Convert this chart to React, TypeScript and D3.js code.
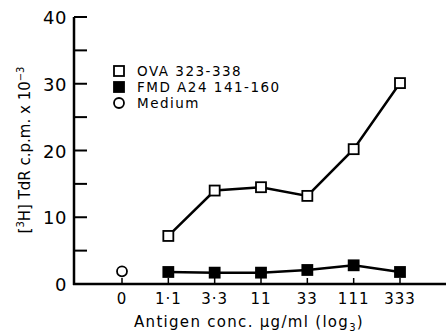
import * as d3 from 'd3'

const concLabels = ['0', '1·1', '3·3', '11', '33', '111', '333']
const ovaConc = ['1·1', '3·3', '11', '33', '111', '333']
const ovaValues = [7.2, 14.0, 14.5, 13.2, 20.2, 30.1]
const fmdConc = ['1·1', '3·3', '11', '33', '111', '333']
const fmdValues = [1.8, 1.7, 1.7, 2.1, 2.8, 1.8]
const mediumConc = ['0']
const mediumValues = [1.9]
const yMajor = [0, 10, 20, 30, 40]
const yMinor = [5, 15, 25, 35]
const legendItems = ['OVA 323-338', 'FMD A24 141-160', 'Medium']

const font = '"DejaVu Sans", "Liberation Sans", sans-serif'

export default function App() {
  const W = 446, H = 334
  const x = d3.scalePoint<string>().domain(concLabels).range([122, 400])
  const y = d3.scaleLinear().domain([0, 40]).range([284, 17])
  const line = d3.line<[string, number]>().x(d => x(d[0]) ?? 0).y(d => y(d[1]))
  const ova = ovaConc.map((c, i) => [c, ovaValues[i]] as [string, number])
  const fmd = fmdConc.map((c, i) => [c, fmdValues[i]] as [string, number])
  const sq = 10

  return (
    <svg width={W} height={H} style={{ position: 'absolute', left: 0, top: 0, background: '#fff' }}
      fontFamily={font}>
      {/* axes */}
      <line x1={74} x2={74} y1={y(40)} y2={y(0) + 1} stroke="#000" strokeWidth={2.5} />
      <line x1={73} x2={446} y1={y(0)} y2={y(0)} stroke="#000" strokeWidth={2.5} />
      {[...yMajor, ...yMinor].map(v => (
        <line key={`yt${v}`} x1={74} x2={87} y1={y(v)} y2={y(v)} stroke="#000" strokeWidth={2} />
      ))}
      {yMajor.map(v => (
        <text key={`yl${v}`} x={67} y={y(v) + 7} textAnchor="end" fontSize={18} letterSpacing={0.5}>{v}</text>
      ))}
      {concLabels.map(c => (
        <g key={`xt${c}`}>
          <line x1={x(c)} x2={x(c)} y1={y(0)} y2={y(0) - 6} stroke="#000" strokeWidth={1.5} />
          <text x={x(c)} y={304} textAnchor="middle" fontSize={15} letterSpacing={1}>{c}</text>
        </g>
      ))}
      <text x={249} y={327} textAnchor="middle" fontSize={15} letterSpacing={1.3}>
        Antigen conc. μg/ml (log<tspan fontSize={10} dy={4}>3</tspan><tspan dy={-4}>)</tspan>
      </text>
      <text transform="translate(30,150) rotate(-90)" textAnchor="middle" fontSize={15}>
        [<tspan fontSize={10} dy={-6}>3</tspan><tspan dy={6}>H] TdR c.p.m. x 10</tspan>
        <tspan fontSize={10} dy={-6}>−3</tspan>
      </text>

      {/* series */}
      <path d={line(ova) ?? ''} fill="none" stroke="#000" strokeWidth={2.5} />
      <path d={line(fmd) ?? ''} fill="none" stroke="#000" strokeWidth={2.5} />
      {ova.map(d => (
        <rect key={`o${d[0]}`} x={(x(d[0]) ?? 0) - sq / 2} y={y(d[1]) - sq / 2} width={sq} height={sq}
          fill="#fff" stroke="#000" strokeWidth={1.8} />
      ))}
      {fmd.map(d => (
        <rect key={`f${d[0]}`} x={(x(d[0]) ?? 0) - sq / 2} y={y(d[1]) - sq / 2} width={sq} height={sq}
          fill="#000" stroke="#000" strokeWidth={1.8} />
      ))}
      {mediumConc.map((c, i) => (
        <circle key={`m${c}`} cx={x(c)} cy={y(mediumValues[i])} r={5} fill="#fff" stroke="#000" strokeWidth={1.8} />
      ))}

      {/* legend */}
      {legendItems.map((t, i) => {
        const ly = 71 + i * 16
        return (
          <g key={t}>
            {i < 2
              ? <rect x={114} y={ly - 5} width={10} height={10} fill={i === 0 ? '#fff' : '#000'} stroke="#000" strokeWidth={1.8} />
              : <circle cx={119} cy={ly} r={5} fill="#fff" stroke="#000" strokeWidth={1.8} />}
            <text x={137} y={ly + 5} fontSize={13.5} letterSpacing={1.5}>{t}</text>
          </g>
        )
      })}
    </svg>
  )
}
